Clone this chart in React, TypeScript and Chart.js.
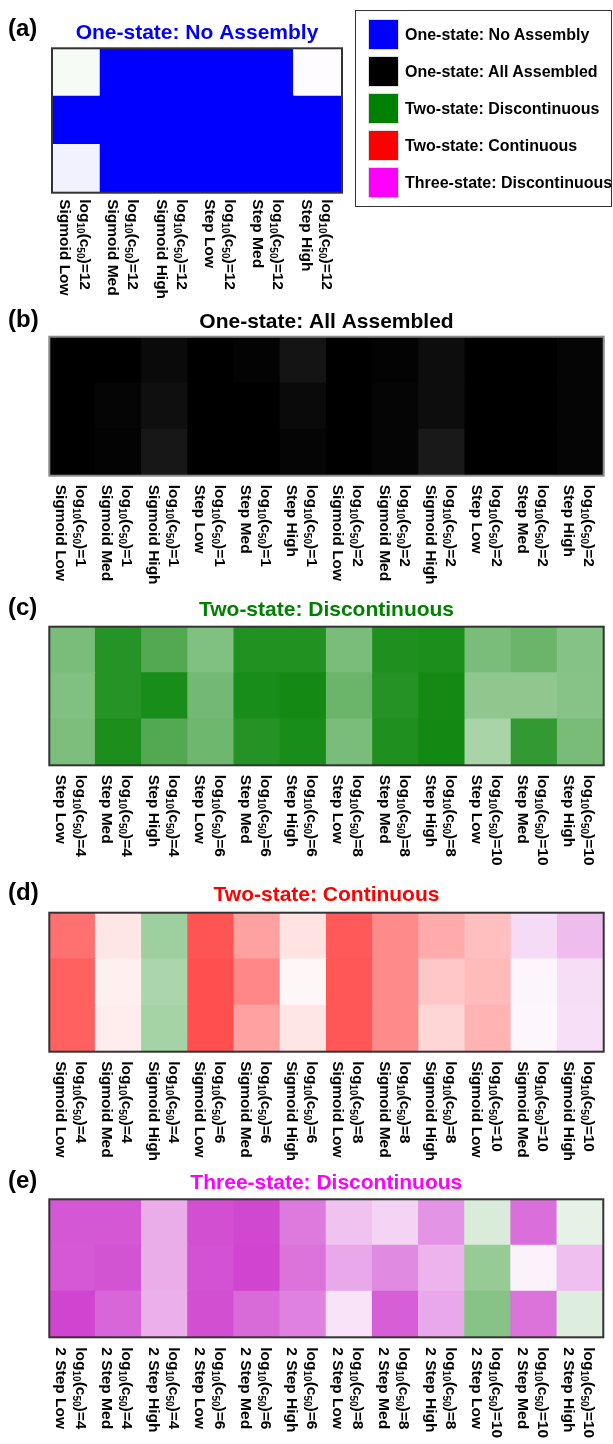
import React, { useEffect, useRef } from "react";
import { Chart, registerables } from "chart.js";

Chart.register(...registerables);

// ---------- DATA ----------
// Model classes: 0 = One-state: No Assembly, 1 = One-state: All Assembled,
// 2 = Two-state: Discontinuous, 3 = Two-state: Continuous, 4 = Three-state: Discontinuous
const legendLabels = [
  "One-state: No Assembly",
  "One-state: All Assembled",
  "Two-state: Discontinuous",
  "Two-state: Continuous",
  "Three-state: Discontinuous",
];

// Panel (a)
const aC50 = ["12", "12", "12", "12", "12", "12"];
const aShapes = ["Sigmoid Low", "Sigmoid Med", "Sigmoid High", "Step Low", "Step Med", "Step High"];
const aClass = [
  [2, 0, 0, 0, 0, 4],
  [0, 0, 0, 0, 0, 0],
  [0, 0, 0, 0, 0, 0],
];
const aStrength = [
  [0.035, 1, 1, 1, 1, 0.01],
  [1, 1, 1, 1, 1, 1],
  [0.05, 1, 1, 1, 1, 1],
];

// Panel (b)
const bC50 = ["1", "1", "1", "1", "1", "1", "2", "2", "2", "2", "2", "2"];
const bShapes = [
  "Sigmoid Low", "Sigmoid Med", "Sigmoid High", "Step Low", "Step Med", "Step High",
  "Sigmoid Low", "Sigmoid Med", "Sigmoid High", "Step Low", "Step Med", "Step High",
];
const bClass = [
  [1, 1, 1, 1, 1, 1, 1, 1, 1, 1, 1, 1],
  [1, 1, 1, 1, 1, 1, 1, 1, 1, 1, 1, 1],
  [1, 1, 1, 1, 1, 1, 1, 1, 1, 1, 1, 1],
];
const bStrength = [
  [1, 1, 0.96, 1, 0.99, 0.92, 1, 0.99, 0.95, 1, 1, 0.98],
  [1, 0.98, 0.94, 1, 1, 0.96, 1, 0.98, 0.95, 1, 1, 0.98],
  [1, 0.99, 0.91, 1, 1, 0.98, 1, 0.98, 0.9, 1, 1, 0.98],
];

// Panel (c)
const cC50 = ["4", "4", "4", "6", "6", "6", "8", "8", "8", "10", "10", "10"];
const cShapes = [
  "Step Low", "Step Med", "Step High", "Step Low", "Step Med", "Step High",
  "Step Low", "Step Med", "Step High", "Step Low", "Step Med", "Step High",
];
const cClass = [
  [2, 2, 2, 2, 2, 2, 2, 2, 2, 2, 2, 2],
  [2, 2, 2, 2, 2, 2, 2, 2, 2, 2, 2, 2],
  [2, 2, 2, 2, 2, 2, 2, 2, 2, 2, 2, 2],
];
const cStrength = [
  [0.52, 0.85, 0.68, 0.5, 0.87, 0.87, 0.52, 0.88, 0.89, 0.52, 0.58, 0.48],
  [0.5, 0.85, 0.9, 0.55, 0.9, 0.92, 0.58, 0.86, 0.92, 0.44, 0.44, 0.47],
  [0.51, 0.89, 0.68, 0.57, 0.86, 0.9, 0.52, 0.88, 0.93, 0.34, 0.8, 0.53],
];

// Panel (d)
const dC50 = ["4", "4", "4", "6", "6", "6", "8", "8", "8", "10", "10", "10"];
const dShapes = [
  "Sigmoid Low", "Sigmoid Med", "Sigmoid High", "Sigmoid Low", "Sigmoid Med", "Sigmoid High",
  "Sigmoid Low", "Sigmoid Med", "Sigmoid High", "Sigmoid Low", "Sigmoid Med", "Sigmoid High",
];
const dClass = [
  [3, 3, 2, 3, 3, 3, 3, 3, 3, 3, 4, 4],
  [3, 3, 2, 3, 3, 3, 3, 3, 3, 3, 4, 4],
  [3, 3, 2, 3, 3, 3, 3, 3, 3, 3, 4, 4],
];
const dStrength = [
  [0.56, 0.1, 0.38, 0.67, 0.37, 0.11, 0.65, 0.46, 0.33, 0.25, 0.14, 0.26],
  [0.62, 0.06, 0.33, 0.69, 0.47, 0.03, 0.66, 0.46, 0.22, 0.27, 0.04, 0.13],
  [0.62, 0.07, 0.35, 0.69, 0.37, 0.1, 0.66, 0.46, 0.16, 0.3, 0.03, 0.12],
];

// Panel (e)
const eC50 = ["4", "4", "4", "6", "6", "6", "8", "8", "8", "10", "10", "10"];
const eShapes = [
  "2 Step Low", "2 Step Med", "2 Step High", "2 Step Low", "2 Step Med", "2 Step High",
  "2 Step Low", "2 Step Med", "2 Step High", "2 Step Low", "2 Step Med", "2 Step High",
];
const eClass = [
  [4, 4, 4, 4, 4, 4, 4, 4, 4, 2, 4, 2],
  [4, 4, 4, 4, 4, 4, 4, 4, 4, 2, 4, 4],
  [4, 4, 4, 4, 4, 4, 4, 4, 4, 2, 4, 2],
];
const eStrength = [
  [0.66, 0.66, 0.32, 0.69, 0.72, 0.52, 0.24, 0.17, 0.42, 0.15, 0.57, 0.1],
  [0.65, 0.67, 0.32, 0.68, 0.73, 0.55, 0.34, 0.46, 0.3, 0.41, 0.05, 0.25],
  [0.73, 0.6, 0.31, 0.69, 0.58, 0.49, 0.11, 0.63, 0.34, 0.47, 0.55, 0.13],
];

// ---------- STYLE ----------
const FF = '"Liberation Sans", Arial, Helvetica, sans-serif';
const W = 613;
const cellBase: number[][] = [
  [0, 0, 255],
  [0, 0, 0],
  [0, 128, 0],
  [255, 0, 0],
  [190, 0, 190],
];
const legendColors = ["#0000ff", "#000000", "#008000", "#ff0000", "#ff00ff"];

function cellColor(cls: number, t: number) {
  const b = cellBase[cls];
  const c = b.map((v) => Math.round(255 * (1 - t) + v * t));
  return `rgb(${c[0]},${c[1]},${c[2]})`;
}

type Panel = {
  letter: string;
  title: string;
  titleColor: string;
  c50: string[];
  shapes: string[];
  classes: number[][];
  strength: number[][];
  top: number;
  height: number;
  frame: { l: number; r: number; t: number; b: number };
  titleBase: number;
  letterBase: number;
  labelGap: number;
  borderColor: string;
};

const panels: Panel[] = [
  {
    letter: "a", title: "One-state: No Assembly", titleColor: "#0000ff",
    c50: aC50, shapes: aShapes, classes: aClass, strength: aStrength,
    top: 0, height: 300, frame: { l: 52, r: 342, t: 48.3, b: 192.7 },
    titleBase: 39, letterBase: 36, labelGap: 6.5, borderColor: "#333",
  },
  {
    letter: "b", title: "One-state: All Assembled", titleColor: "#000000",
    c50: bC50, shapes: bShapes, classes: bClass, strength: bStrength,
    top: 300, height: 290, frame: { l: 49.3, r: 603.7, t: 336.7, b: 475.7 },
    titleBase: 328, letterBase: 327, labelGap: 9, borderColor: "#8a8a8a",
  },
  {
    letter: "c", title: "Two-state: Discontinuous", titleColor: "#008000",
    c50: cC50, shapes: cShapes, classes: cClass, strength: cStrength,
    top: 590, height: 290, frame: { l: 49.3, r: 603.7, t: 626.7, b: 765.3 },
    titleBase: 616, letterBase: 615, labelGap: 9.5, borderColor: "#333",
  },
  {
    letter: "d", title: "Two-state: Continuous", titleColor: "#ff0000",
    c50: dC50, shapes: dShapes, classes: dClass, strength: dStrength,
    top: 880, height: 280, frame: { l: 49.3, r: 603.7, t: 912.7, b: 1051.7 },
    titleBase: 901, letterBase: 900, labelGap: 9.5, borderColor: "#333",
  },
  {
    letter: "e", title: "Three-state: Discontinuous", titleColor: "#ff00ff",
    c50: eC50, shapes: eShapes, classes: eClass, strength: eStrength,
    top: 1160, height: 284, frame: { l: 49.3, r: 603.3, t: 1199.3, b: 1337.3 },
    titleBase: 1189, letterBase: 1188, labelGap: 10, borderColor: "#333",
  },
];

const MAIN = 15.5;
const SUB = 10;
const SUBSHIFT = 3;

function drawSegs(ctx: CanvasRenderingContext2D, segs: { t: string; sub?: boolean }[]) {
  let x = 0;
  for (const s of segs) {
    ctx.font = `bold ${s.sub ? SUB : MAIN}px ${FF}`;
    ctx.fillText(s.t, x, s.sub ? SUBSHIFT : 0);
    x += ctx.measureText(s.t).width;
  }
}

function makeDeco(p: Panel) {
  return {
    id: "panelDeco" + p.letter,
    afterDraw(chart: any) {
      const ctx: CanvasRenderingContext2D = chart.ctx;
      const ca = chart.chartArea;
      ctx.save();
      // frame
      ctx.strokeStyle = p.borderColor;
      ctx.lineWidth = 2;
      ctx.strokeRect(ca.left, ca.top, ca.right - ca.left, ca.bottom - ca.top);
      // title
      ctx.textBaseline = "alphabetic";
      ctx.textAlign = "center";
      ctx.fillStyle = p.titleColor;
      ctx.font = `bold 21px ${FF}`;
      ctx.fillText(p.title, (ca.left + ca.right) / 2, p.titleBase - p.top);
      // letter
      ctx.textAlign = "left";
      ctx.fillStyle = "#000";
      ctx.font = `bold 24px ${FF}`;
      ctx.fillText(`(${p.letter})`, 8, p.letterBase - p.top);
      // rotated tick labels
      const xs = chart.scales.x;
      ctx.fillStyle = "#000";
      p.shapes.forEach((shape, i) => {
        const cx = xs.getPixelForValue(i);
        const y0 = ca.bottom + p.labelGap;
        ctx.save();
        ctx.translate(cx + 3.8, y0);
        ctx.rotate(Math.PI / 2);
        drawSegs(ctx, [
          { t: "log" },
          { t: "10", sub: true },
          { t: "(c" },
          { t: "50", sub: true },
          { t: ")=" + p.c50[i] },
        ]);
        ctx.restore();
        ctx.save();
        ctx.translate(cx - 16.2, y0);
        ctx.rotate(Math.PI / 2);
        drawSegs(ctx, [{ t: shape }]);
        ctx.restore();
      });
      ctx.restore();
    },
  };
}

function HeatPanel({ p }: { p: Panel }) {
  const ref = useRef<HTMLCanvasElement | null>(null);
  useEffect(() => {
    if (!ref.current) return;
    const rowsBottomUp = [2, 1, 0];
    const chart = new Chart(ref.current, {
      type: "bar",
      data: {
        labels: p.shapes.map((s, i) => [`log10(c50)=${p.c50[i]}`, s]),
        datasets: rowsBottomUp.map((r) => ({
          label: `row ${r + 1}`,
          data: p.shapes.map(() => 1),
          backgroundColor: p.classes[r].map((c, i) => cellColor(c, p.strength[r][i])),
          borderWidth: 0,
          barPercentage: 1,
          categoryPercentage: 1,
          inflateAmount: 0.6,
        })),
      },
      options: {
        responsive: false,
        animation: false,
        devicePixelRatio: 1,
        layout: {
          padding: {
            left: p.frame.l,
            right: W - p.frame.r,
            top: p.frame.t - p.top,
            bottom: p.top + p.height - p.frame.b,
          },
        },
        scales: {
          x: { stacked: true, display: false },
          y: { stacked: true, display: false, min: 0, max: 3 },
        },
        plugins: {
          legend: { display: false },
          tooltip: { enabled: false },
          title: { display: false },
        },
      },
      plugins: [makeDeco(p)],
    } as any);
    return () => chart.destroy();
  }, [p]);
  return (
    <canvas
      ref={ref}
      width={W}
      height={p.height}
      style={{ position: "absolute", left: 0, top: p.top, width: W, height: p.height }}
    />
  );
}

function Legend() {
  return (
    <div
      style={{
        position: "absolute",
        left: 355,
        top: 10,
        width: 257,
        height: 197,
        border: "1.5px solid #333",
        boxSizing: "border-box",
        background: "#fff",
        fontFamily: FF,
        fontWeight: "bold",
        fontSize: 16,
        color: "#000",
      }}
    >
      {legendLabels.map((lab, i) => (
        <div key={lab} style={{ position: "absolute", left: 12, top: 8 + 37 * i, height: 31, display: "flex", alignItems: "center", whiteSpace: "nowrap" }}>
          <div style={{ width: 31, height: 31, background: legendColors[i], boxShadow: "0 0 0 1px #ddd inset", marginRight: 6 }} />
          <span>{lab}</span>
        </div>
      ))}
    </div>
  );
}

export default function App() {
  return (
    <div style={{ position: "absolute", left: 0, top: 0, width: W, height: 1444, background: "#fff", overflow: "hidden" }}>
      {panels.map((p) => (
        <HeatPanel key={p.letter} p={p} />
      ))}
      <Legend />
    </div>
  );
}
